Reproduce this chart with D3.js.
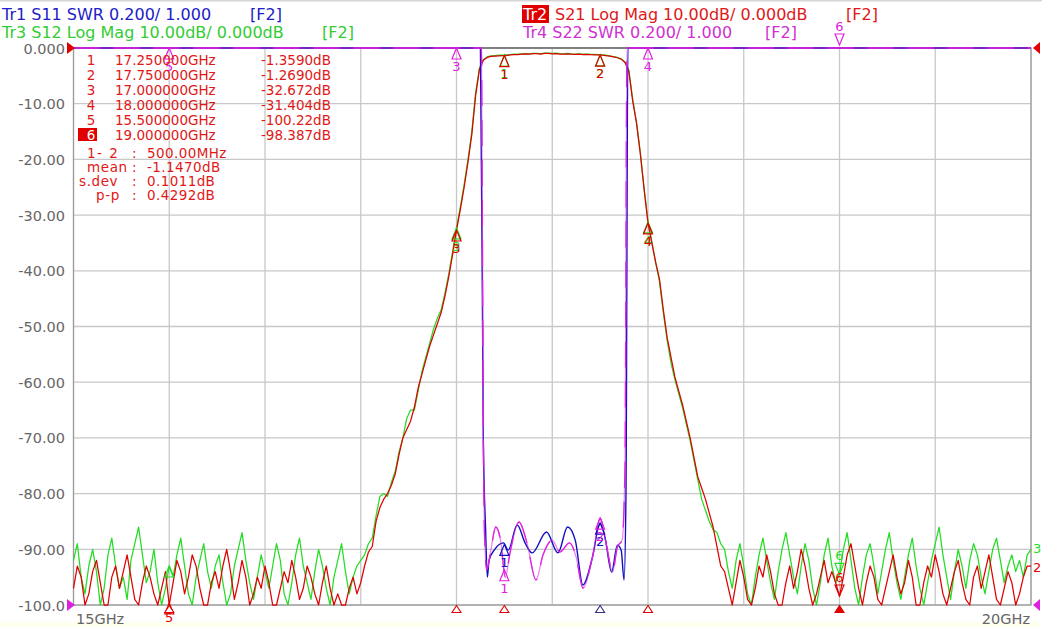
<!DOCTYPE html>
<html>
<head>
<meta charset="utf-8">
<script src="https://cdn.jsdelivr.net/npm/d3@7"></script>
<style>
    body { margin: 0; background: #fff; }
    svg { display: block; font-family: "DejaVu Sans", Verdana, sans-serif; }
</style>
</head>
<body>
<svg id="chart" width="1042" height="627"></svg>
<script>
// Sweep: 15 GHz .. 20 GHz, 251 points
const sweepStart = 15, sweepStop = 20, sweepStep = 0.02;

// S21 (Tr2, red) in dB
const s21Low = [
    -97, -93, -95, -100, -98, -94, -92, -96, -100, -100,
    -95, -93, -97, -94, -91, -95, -99, -100, -96, -93,
    -95, -98, -100, -97, -94, -100, -96, -92, -94, -98,
    -95, -91, -93, -97, -100, -100, -96, -94, -97, -93,
    -90, -94, -99, -96, -92, -95, -100, -98, -95, -97,
    -93, -96, -100, -100, -97, -94, -96, -92, -95, -99,
    -97, -93, -95, -98, -100, -96, -93, -97, -100, -98,
    -100, -100, -97, -95, -98, -96,
];
const s21Band = [
    -93, -90.5, -89.5, -85, -82.5, -81, -80, -78.5, -76.5, -73,
    -70, -68.5, -67, -64.5, -61, -58.5, -56, -53.5, -51.5, -49.5,
    -47.5, -44.5, -41, -37, -32.7, -29, -25, -20.5, -15.5, -8.5,
    -3.8, -2.2, -1.7, -1.5, -1.45, -1.4, -1.37, -1.35, -1.25, -1.18,
    -1.2, -1.12, -1.05, -1.1, -1.02, -1.0, -1.08, -0.98, -0.95, -1.05,
    -1.0, -1.08, -1.1, -1.05, -1.12, -1.15, -1.1, -1.18, -1.15, -1.2,
    -1.22, -1.25, -1.29, -1.35, -1.45, -1.6, -1.75, -2.0, -2.6, -4.2,
    -9.5, -13.5, -19, -25.5, -31.4, -35, -38.5, -41.5, -47, -52,
    -55.5, -59, -61.5, -64, -67, -70, -73.5, -77, -79, -81,
    -83.5, -86, -89.5, -93,
];
const s21High = [
    -94, -97, -100, -96, -92, -95, -99, -100, -97, -93,
    -95, -91, -94, -98, -100, -100, -96, -93, -97, -94,
    -90, -93, -97, -100, -98, -95, -92, -96, -94, -96,
    -98.4, -95, -91, -89, -93, -97, -100, -96, -93, -95,
    -99, -100, -97, -94, -91, -95, -98, -96, -92, -95,
    -100, -100, -96, -93, -95, -91, -94, -98, -100, -97,
    -94, -92, -96, -99, -100, -95, -93, -97, -94, -91,
    -95, -99, -100, -97, -94, -96, -100, -98, -95, -93, -93,
];

// S12 (Tr3, green) in dB
const s12Low = [
    -92, -89, -95, -98, -93, -90, -94, -100, -97, -91,
    -88, -93, -97, -95, -99, -92, -89, -86, -91, -96,
    -94, -90, -96, -100, -97, -93, -95, -91, -88, -93,
    -98, -100, -95, -92, -89, -94, -97, -93, -91, -96,
    -100, -98, -93, -90, -87, -92, -96, -99, -95, -91,
    -94, -97, -93, -89, -92, -98, -100, -96, -91, -88,
    -93, -96, -99, -94, -90, -93, -97, -100, -95, -92,
    -89, -94, -98, -95, -93, -92,
];
const s12Band = [
    -91, -89, -88, -84, -80.5, -80, -80.5, -78, -76, -72.5,
    -70, -66.5, -65, -65, -61.5, -58, -55.5, -53, -50.5, -48.5,
    -47, -44, -40.5, -36.5, -32.3, -28.5, -24.5, -20, -15, -8,
    -3.6, -2.1, -1.6, -1.4, -1.35, -1.3, -1.3, -1.25, -1.2, -1.1,
    -1.12, -1.05, -1.0, -1.04, -0.95, -0.95, -1.0, -0.92, -0.9, -0.98,
    -0.94, -1.0, -1.04, -0.98, -1.05, -1.1, -1.04, -1.12, -1.1, -1.14,
    -1.16, -1.2, -1.24, -1.3, -1.4, -1.55, -1.7, -1.95, -2.5, -4.0,
    -9.2, -13.3, -18.8, -25.3, -31.2, -34.8, -38.5, -42, -47.5, -52.5,
    -56.5, -59.5, -62, -64.5, -67.5, -70.5, -74, -77.5, -81, -83,
    -85, -86.5, -87, -89,
];
const s12High = [
    -90, -94, -97, -92, -89, -93, -98, -100, -95, -91,
    -88, -92, -96, -99, -94, -90, -87, -91, -95, -98,
    -93, -89, -92, -97, -100, -96, -91, -88, -93, -96,
    -94.5, -90, -87, -92, -97, -100, -95, -91, -89, -93,
    -98, -94, -90, -87, -92, -96, -99, -95, -91, -88,
    -93, -97, -100, -96, -92, -89, -86, -91, -95, -99,
    -94, -90, -93, -97, -92, -89, -91, -95, -98, -94,
    -90, -88, -92, -96, -93, -91, -94, -92, -95, -91, -90,
];

// S11 (Tr1, blue) SWR
const s11Freq = [15.0, 17.10, 17.125, 17.14, 17.152, 17.161, 17.17, 17.20, 17.245, 17.27,
    17.317, 17.358, 17.395, 17.47, 17.53, 17.58, 17.62, 17.66, 17.71, 17.75,
    17.775, 17.81, 17.84, 17.86, 17.875, 17.885, 17.895, 17.91, 20.0];
const s11Swr = [8, 8, 3.5, 1.6, 1.27, 1.10, 1.16, 1.20, 1.223, 1.197,
    1.287, 1.223, 1.187, 1.262, 1.187, 1.28, 1.233, 1.072, 1.172, 1.294,
    1.244, 1.118, 1.215, 1.197, 1.09, 1.4, 3.5, 8, 8];

// S22 (Tr4, magenta) SWR
const s22Freq = [15.0, 17.10, 17.13, 17.14, 17.146, 17.158, 17.18, 17.205, 17.23, 17.255,
    17.28, 17.327, 17.368, 17.415, 17.452, 17.50, 17.54, 17.59, 17.625, 17.66,
    17.71, 17.75, 17.785, 17.815, 17.84, 17.865, 17.88, 17.89, 17.91, 20.0];
const s22Swr = [8, 8, 3.5, 1.6, 1.258, 1.126, 1.2, 1.28, 1.233, 1.10,
    1.19, 1.298, 1.223, 1.09, 1.18, 1.233, 1.19, 1.223, 1.172, 1.061,
    1.172, 1.312, 1.208, 1.118, 1.208, 1.233, 1.5, 3.5, 8, 8];

// Markers
const markerNum = [1, 2, 3, 4, 5, 6];
const markerFreq = [17.25, 17.75, 17.0, 18.0, 15.5, 19.0];
const markerS21 = [-1.359, -1.269, -32.672, -31.404, -100.22, -98.387];
const markerFreqText = ["17.250000GHz", "17.750000GHz", "17.000000GHz", "18.000000GHz", "15.500000GHz", "19.000000GHz"];
const markerValText = ["-1.3590dB", "-1.2690dB", "-32.672dB", "-31.404dB", "-100.22dB", "-98.387dB"];
const statLabels = ["1- 2", "mean", "s.dev", "p-p"];
const statValues = ["500.00MHz", "-1.1470dB", "0.1011dB", "0.4292dB"];

const yTickLabels = ["0.000", "-10.00", "-20.00", "-30.00", "-40.00", "-50.00", "-60.00", "-70.00", "-80.00", "-90.00", "-100.0"];
const xTickLabels = ["15GHz", "20GHz"];

const colors = {
    red: "#e00000", green: "#22dd22", blue: "#1010c0", magenta: "#e020e0",
    hRed: "#e01818", hGreen: "#33cc33", hBlue: "#2020c8", hMag: "#d030d0",
    grid: "#c8c8c8", axisText: "#666666",
};

const s21 = s21Low.concat(s21Band, s21High);
const s12 = s12Low.concat(s12Band, s12High);

const svg = d3.select("#chart");
const plot = { left: 73.5, right: 1031, top: 48, bottom: 605 };

const x = d3.scaleLinear().domain([sweepStart, sweepStop]).range([plot.left, plot.right]);
const y = d3.scaleLinear().domain([-100, 0]).range([plot.bottom, plot.top]).clamp(true);
const ySwr = d3.scaleLinear().domain([1, 3]).range([plot.bottom, plot.top]).clamp(true);

/**
 * Value of a uniform sweep trace at frequency f (linear interpolation)
 */
function sweepAt(trace, f) {
    const p = (f - sweepStart) / sweepStep, i = Math.floor(p), t = p - i;
    if (i >= trace.length - 1) return trace[trace.length - 1];
    return trace[i] + (trace[i + 1] - trace[i]) * t;
}

/**
 * Value of a (freq, value) trace at frequency f
 */
function pairAt(freqs, vals, f) {
    const i = Math.max(1, d3.bisectLeft(freqs, f));
    const t = (f - freqs[i - 1]) / (freqs[i] - freqs[i - 1]);
    return vals[i - 1] + (vals[i] - vals[i - 1]) * t;
}

// background strips
svg.append("rect").attr("x", 0).attr("y", 0).attr("width", 1042).attr("height", 1.5).attr("fill", "#d6d6d6");
svg.append("rect").attr("x", 0).attr("y", 622).attr("width", 1042).attr("height", 5).attr("fill", "#fffff0");

// grid
const gridX = d3.range(0, 11).map((i) => sweepStart + i * 0.5);
const gridY = d3.range(0, 11).map((i) => -i * 10);

svg.append("g")
    .selectAll("line")
    .data(gridX)
    .enter()
    .append("line")
    .attr("x1", (d) => x(d)).attr("x2", (d) => x(d))
    .attr("y1", plot.top).attr("y2", plot.bottom)
    .attr("stroke", colors.grid).attr("stroke-width", 1.3);

svg.append("g")
    .selectAll("line")
    .data(gridY)
    .enter()
    .append("line")
    .attr("x1", plot.left).attr("x2", plot.right)
    .attr("y1", (d) => y(d)).attr("y2", (d) => y(d))
    .attr("stroke", colors.grid).attr("stroke-width", 1.3);

// frame
svg.append("rect")
    .attr("x", plot.left).attr("y", plot.top)
    .attr("width", plot.right - plot.left).attr("height", plot.bottom - plot.top)
    .attr("fill", "none").attr("stroke", "#9a9a9a").attr("stroke-width", 1.2);
svg.append("line")
    .attr("x1", plot.left).attr("x2", plot.right)
    .attr("y1", plot.top).attr("y2", plot.top)
    .attr("stroke", "#505050").attr("stroke-width", 1.2);

// y tick labels
svg.append("g")
    .selectAll("text")
    .data(yTickLabels)
    .enter()
    .append("text")
    .attr("x", 65)
    .attr("y", (d, i) => y(gridY[i]) + 5.5)
    .attr("text-anchor", "end")
    .attr("font-size", 14.5)
    .attr("fill", colors.axisText)
    .text((d) => d);

// x tick labels
svg.append("text").attr("x", 76).attr("y", 624).attr("font-size", 14.5)
    .attr("fill", colors.axisText).text(xTickLabels[0]);
svg.append("text").attr("x", 1030).attr("y", 624).attr("font-size", 14.5)
    .attr("text-anchor", "end").attr("fill", colors.axisText).text(xTickLabels[1]);

// traces
const sweepLine = d3.line()
    .x((d, i) => x(sweepStart + i * sweepStep))
    .y((d) => y(d));

const swrLine = (freqs) => d3.line()
    .x((d, i) => x(freqs[i]))
    .y((d) => ySwr(d))
    .curve(d3.curveMonotoneX);

const traces = svg.append("g").attr("fill", "none").attr("stroke-width", 1.25).attr("stroke-linejoin", "round");
traces.append("path").attr("d", sweepLine(s12)).attr("stroke", colors.green);
traces.append("path").attr("d", sweepLine(s21)).attr("stroke", colors.red);
traces.append("path").attr("d", swrLine(s11Freq)(s11Swr)).attr("stroke", colors.blue).attr("stroke-width", 1.4);
traces.append("path").attr("d", swrLine(s22Freq)(s22Swr)).attr("stroke", colors.magenta)
    .attr("stroke-dasharray", "26,14").attr("stroke-width", 1.3);
traces.append("path").attr("d", swrLine(s22Freq)(s22Swr)).attr("stroke", colors.magenta)
    .attr("stroke-width", 1.3).attr("stroke-opacity", 0.55);

// marker glyphs
const triUp = (px, py, w = 4.5, h = 11) => `M${px},${py}L${px - w},${py + h}L${px + w},${py + h}Z`;
const triDown = (px, py, w = 4.5, h = 11) => `M${px},${py}L${px - w},${py - h}L${px + w},${py - h}Z`;

const markerLayer = svg.append("g").attr("font-size", 13).attr("text-anchor", "middle");

function drawMarker(px, py, num, color, active, showLabel = true) {
    markerLayer.append("path")
        .attr("d", active ? triDown(px, py) : triUp(px, py))
        .attr("fill", "none").attr("stroke", color).attr("stroke-width", 1.2);
    if (!showLabel) return;
    markerLayer.append("text")
        .attr("x", px)
        .attr("y", active ? py - 14 : py + 23)
        .attr("fill", color)
        .text(num);
}

markerNum.forEach((num, i) => {
    const f = markerFreq[i], px = x(f), active = num === 6;
    // S22 / S11 markers (SWR)
    const v11 = pairAt(s11Freq, s11Swr, f), v22 = pairAt(s22Freq, s22Swr, f);
    if (v11 <= 3) drawMarker(px, ySwr(v11), num, colors.blue, false);
    if (v22 <= 3) drawMarker(px, ySwr(v22), num, colors.magenta, false);
    else if (active) {
        drawMarker(px, plot.top - 3, num, colors.magenta, true);
    } else drawMarker(px, plot.top, num, colors.magenta, false);
    // S12 markers
    drawMarker(px, y(sweepAt(s12, f)), num, colors.green, active, num !== 5);
    // S21 markers
    if (active) {
        drawMarker(px, y(markerS21[i]), num, colors.red, true);
    } else if (markerS21[i] < -100) {
        // below the scale: glyph sits on the bottom edge, number under the axis
        drawMarker(px, plot.bottom - 2, num, colors.red, false, false);
        markerLayer.append("text").attr("x", px).attr("y", plot.bottom + 17)
            .attr("fill", colors.red).text(num);
    } else {
        drawMarker(px, y(markerS21[i]), num, colors.red, false);
    }
    // bottom position indicators
    markerLayer.append("path")
        .attr("d", triUp(px, plot.bottom + 0.5, 4.5, 7))
        .attr("fill", active ? colors.red : "#fff")
        .attr("stroke", num === 2 ? "#303080" : colors.red)
        .attr("stroke-width", 1.1);
});

// reference position arrows
const refArrows = [
    { pts: [[67, 42], [67, 54], [75, 48]], c: colors.red },
    { pts: [[67, 599], [67, 611], [75, 605]], c: colors.magenta },
    { pts: [[1040, 42], [1040, 54], [1033, 48]], c: colors.red },
    { pts: [[1040, 599], [1040, 611], [1033, 605]], c: colors.magenta },
];
svg.append("g")
    .selectAll("path")
    .data(refArrows)
    .enter()
    .append("path")
    .attr("d", (d) => "M" + d.pts.join("L") + "Z")
    .attr("fill", (d) => d.c);

// trace end labels
svg.append("text").attr("x", 1033).attr("y", y(s12[s12.length - 1]) + 4).attr("font-size", 13)
    .attr("fill", colors.green).text("3");
svg.append("text").attr("x", 1033).attr("y", y(s21[s21.length - 1]) + 6).attr("font-size", 13)
    .attr("fill", colors.red).text("2");

// marker table
const table = svg.append("g").attr("font-size", 13.5).attr("fill", colors.hRed);
markerNum.forEach((num, i) => {
    const by = 64.5 + i * 15;
    if (num === 6) {
        table.append("rect").attr("x", 78).attr("y", by - 11.5).attr("width", 19).attr("height", 13)
            .attr("fill", "#e00000");
    }
    table.append("text").attr("x", 91).attr("y", by).attr("text-anchor", "middle")
        .attr("fill", num === 6 ? "#fff" : colors.hRed).text(num);
    table.append("text").attr("x", 115).attr("y", by).text(markerFreqText[i]);
    table.append("text").attr("x", 261).attr("y", by).text(markerValText[i]);
});
const statX = [87, 87, 79, 96];
statLabels.forEach((lab, i) => {
    const by = 158 + i * 14;
    table.append("text").attr("x", statX[i]).attr("y", by).attr("xml:space", "preserve")
        .attr("letter-spacing", i === 0 ? 1.5 : 0.6).text(lab);
    table.append("text").attr("x", 132).attr("y", by).text(":");
    table.append("text").attr("x", 147).attr("y", by).attr("letter-spacing", 0.4).text(statValues[i]);
});

// header
const head = svg.append("g").attr("font-size", 16);
head.append("text").attr("x", 2).attr("y", 19.5).attr("fill", colors.hBlue).text("Tr1 S11 SWR 0.200/ 1.000");
head.append("text").attr("x", 250).attr("y", 19.5).attr("fill", colors.hBlue).text("[F2]");
head.append("text").attr("x", 2).attr("y", 37.5).attr("fill", colors.hGreen).text("Tr3 S12 Log Mag 10.00dB/ 0.000dB");
head.append("text").attr("x", 322).attr("y", 37.5).attr("fill", colors.hGreen).text("[F2]");
head.append("rect").attr("x", 522).attr("y", 5).attr("width", 27).attr("height", 18).attr("fill", "#e00000");
head.append("text").attr("x", 523).attr("y", 19.5).attr("fill", "#fff").text("Tr2");
head.append("text").attr("x", 555).attr("y", 19.5).attr("fill", colors.hRed).text("S21 Log Mag 10.00dB/ 0.000dB");
head.append("text").attr("x", 846).attr("y", 19.5).attr("fill", colors.hRed).text("[F2]");
head.append("text").attr("x", 523).attr("y", 37.5).attr("fill", colors.hMag).text("Tr4 S22 SWR 0.200/ 1.000");
head.append("text").attr("x", 765).attr("y", 37.5).attr("fill", colors.hMag).text("[F2]");
</script>
</body>
</html>
